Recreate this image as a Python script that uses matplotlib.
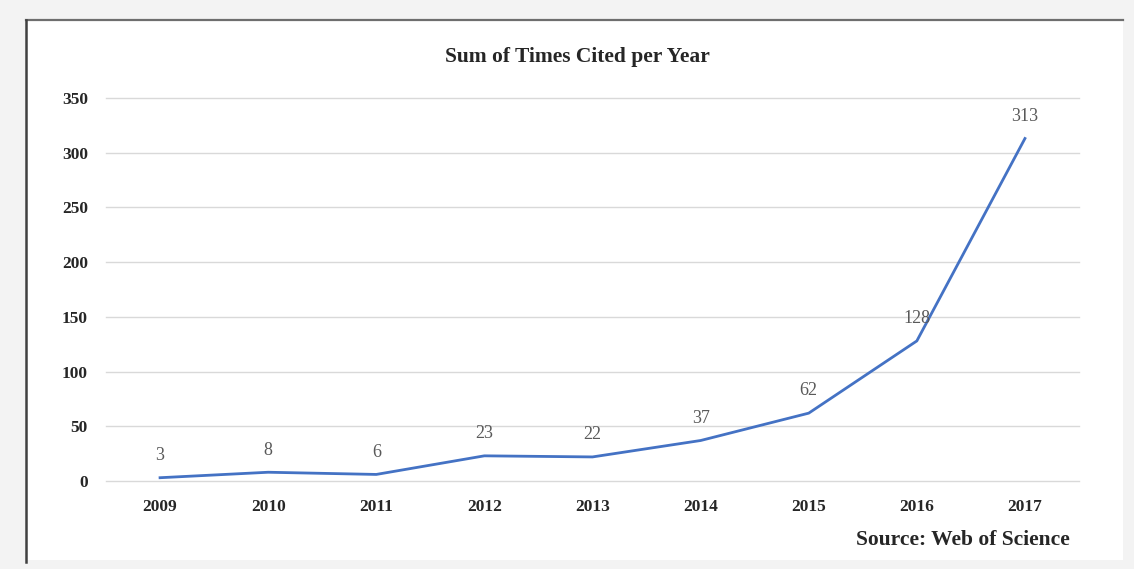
import matplotlib
matplotlib.use('Agg')
import matplotlib.pyplot as plt
from matplotlib.patches import Rectangle
from matplotlib.lines import Line2D

# -----------------------------------------------------------------------
# Data
# -----------------------------------------------------------------------
years = ["2009", "2010", "2011", "2012", "2013", "2014", "2015", "2016", "2017"]
times_cited = [3, 8, 6, 23, 22, 37, 62, 128, 313]
y_ticks = [0, 50, 100, 150, 200, 250, 300, 350]

W, H = 1134, 569

plt.rcParams['font.family'] = ['Liberation Serif', 'DejaVu Serif']

fig = plt.figure(figsize=(W / 100, H / 100), dpi=100)
fig.patch.set_facecolor('#f3f3f3')

# white panel with darker top/left edge
fig.patches.append(Rectangle((26 / W, 1 - 560 / H), (1123 - 26) / W, (560 - 20) / H,
                             transform=fig.transFigure, facecolor='white',
                             edgecolor='none', zorder=0))
fig.lines.append(Line2D([26 / W, 1123 / W], [1 - 20 / H, 1 - 20 / H],
                        transform=fig.transFigure, color='#6e6e6e', linewidth=1.6))
fig.lines.append(Line2D([26 / W, 26 / W], [1 - 20 / H, 1 - 562 / H],
                        transform=fig.transFigure, color='#404040', linewidth=1.8))

ax = fig.add_axes([106 / W, 1 - 481 / H, (1079 - 106) / W, (481 - 98) / H])
ax.set_facecolor('none')
ax.set_zorder(5)

x = range(len(years))
ax.plot(x, times_cited, color='#4472C4', linewidth=2, zorder=3)

for xi, v in zip(x, times_cited):
    ax.annotate(str(v), (xi, v), xytext=(0, 16), textcoords='offset points',
                ha='center', va='center', fontsize=13, color='#595959')

ax.set_xlim(-0.5, len(years) - 0.5)
ax.set_ylim(0, 350)
ax.set_yticks(y_ticks)
ax.set_xticks(list(x))
ax.set_xticklabels(years)
ax.tick_params(length=0, labelsize=12.5, colors='#262626')
ax.tick_params(axis='y', pad=13)
ax.tick_params(axis='x', pad=13)
for lbl in ax.get_xticklabels() + ax.get_yticklabels():
    lbl.set_fontweight('bold')

ax.grid(axis='y', color='#d9d9d9', linewidth=1)
for gl in ax.get_ygridlines():
    gl.set_clip_on(False)
ax.set_axisbelow(True)
for s in ax.spines.values():
    s.set_visible(False)

fig.text(577 / W, 1 - 57 / H, "Sum of Times Cited per Year", ha='center', va='center',
         fontsize=15.5, fontweight='bold', color='#262626')
fig.text(1070 / W, 1 - 540 / H, "Source: Web of Science", ha='right', va='center',
         fontsize=15.5, fontweight='bold', color='#262626')

plt.savefig('out.png', dpi=100, facecolor=fig.get_facecolor())
plt.close()
